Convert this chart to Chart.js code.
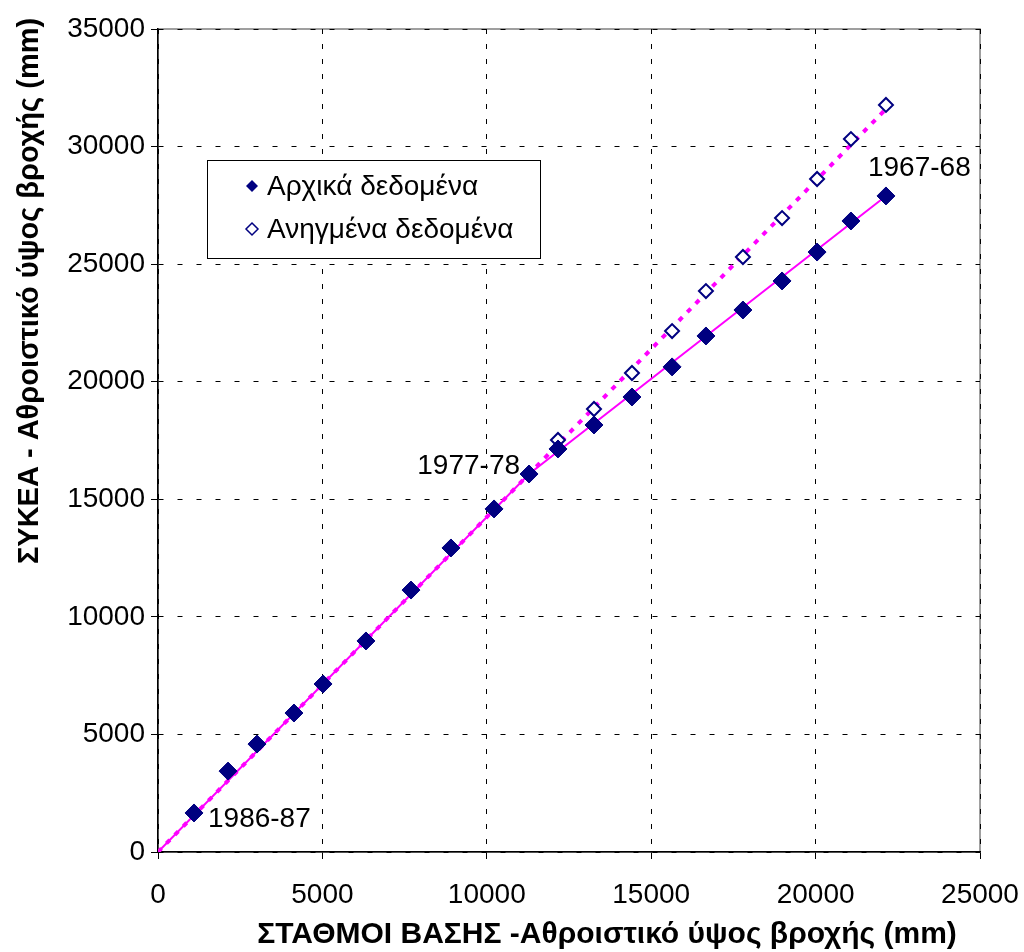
<!DOCTYPE html>
<html>
<head>
<meta charset="utf-8">
<script src="https://cdn.jsdelivr.net/npm/chart.js@4"></script>
<style>
  html, body { margin: 0; padding: 0; background: #fff; }
  #wrap { width: 1024px; height: 952px; }
</style>
</head>
<body>
<div id="wrap"><canvas id="massChart" width="1024" height="952"></canvas></div>
<script>
// Cumulative rainfall, base stations (x) vs SYKEA (y), mm
const baseCum = [1095, 2130, 3010, 4135, 5020, 6325, 7695, 8910, 10220, 11285,
                 12165, 13260, 14415, 15635, 16665, 17790, 18980, 20045, 21075, 22140];
const origCum = [1660, 3440, 4590, 5910, 7145, 8975, 11140, 12930, 14590, 16075,
                 17140, 18160, 19350, 20630, 21945, 23050, 24285, 25515, 26835, 27900];
const adjCum  = [1660, 3440, 4590, 5910, 7145, 8975, 11140, 12930, 14590, 16075,
                 17520, 18840, 20370, 22155, 23855, 25305, 26960, 28620, 30320, 31770];

// fitted straight lines (break at 1977-78)
const origFitX = [0, 11285, 22140];
const origFitY = [0, 16075, 27900];
const adjFitX  = [0, 11285, 22140];
const adjFitY  = [0, 16075, 31600];

const xTicks = [0, 5000, 10000, 15000, 20000, 25000];
const yTicks = [0, 5000, 10000, 15000, 20000, 25000, 30000, 35000];

const yearLabels = [
  {text: '1986-87', idx: 0,  dx: 14,  dy: 6,   align: 'left'},
  {text: '1977-78', idx: 9,  dx: -9,  dy: -8,  align: 'right'},
  {text: '1967-68', idx: 19, dx: -18, dy: -28, align: 'left'}
];

const legendItems = ['Αρχικά δεδομένα', 'Ανηγμένα δεδομένα'];
const xTitle = 'ΣΤΑΘΜΟΙ ΒΑΣΗΣ -Αθροιστικό ύψος βροχής (mm)';
const yTitle = 'ΣΥΚΕΑ - Αθροιστικό ύψος βροχής (mm)';

const toXY = (xs, ys) => xs.map((x, i) => ({x: x, y: ys[i]}));

const FONT = '"Liberation Sans", Arial, sans-serif';
const NAVY = '#000080';
const MAGENTA = '#ff00ff';

const overlay = {
  id: 'overlay',
  beforeDraw(chart) {
    // gray plot frame under the dashed grid
    const {ctx, chartArea: a} = chart;
    ctx.save();
    ctx.strokeStyle = '#808080';
    ctx.lineWidth = 1.5;
    ctx.strokeRect(a.left, a.top, a.right - a.left, a.bottom - a.top);
    ctx.restore();
  },
  afterDatasetsDraw(chart) {
    const {ctx, chartArea, scales} = chart;
    ctx.save();
    // year labels
    ctx.font = '28px ' + FONT;
    ctx.fillStyle = '#000';
    ctx.textBaseline = 'middle';
    yearLabels.forEach(l => {
      const px = scales.x.getPixelForValue(baseCum[l.idx]);
      const py = scales.y.getPixelForValue(origCum[l.idx]);
      ctx.textAlign = l.align;
      ctx.fillText(l.text, px + l.dx, py + l.dy);
    });
    // legend box
    const bx = chartArea.left + 49, by = chartArea.top + 131, bw = 333, bh = 98;
    ctx.fillStyle = '#fff';
    ctx.fillRect(bx, by, bw, bh);
    ctx.strokeStyle = '#000';
    ctx.lineWidth = 1;
    ctx.strokeRect(bx + 0.5, by + 0.5, bw, bh);
    ctx.font = '28px ' + FONT;
    ctx.textAlign = 'left';
    legendItems.forEach((t, i) => {
      const cy = by + 26 + i * 43;
      const mx = bx + 45;
      ctx.beginPath();
      ctx.moveTo(mx, cy - 6); ctx.lineTo(mx + 6, cy); ctx.lineTo(mx, cy + 6); ctx.lineTo(mx - 6, cy);
      ctx.closePath();
      if (i === 0) {
        ctx.fillStyle = NAVY; ctx.fill();
      } else {
        ctx.fillStyle = '#fff'; ctx.fill();
        ctx.strokeStyle = NAVY; ctx.lineWidth = 1.5; ctx.stroke();
      }
      ctx.fillStyle = '#000';
      ctx.fillText(t, bx + 60, cy + 1);
    });
    // axis titles
    ctx.font = 'bold 30px ' + FONT;
    ctx.textAlign = 'center';
    ctx.fillText(xTitle, 607, 935);
    ctx.font = 'bold 29px ' + FONT;
    ctx.translate(30, 291);
    ctx.rotate(-Math.PI / 2);
    ctx.fillText(yTitle, 0, 0);
    ctx.restore();
  }
};

const ctx = document.getElementById('massChart').getContext('2d');

const chart = new Chart(ctx, {
  type: 'scatter',
  data: {
    datasets: [
      {
        label: 'Αρχικά δεδομένα',
        data: toXY(baseCum, origCum),
        pointStyle: 'rectRot',
        pointRadius: 9,
        backgroundColor: NAVY,
        borderColor: NAVY,
        borderWidth: 1,
        showLine: false
      },
      {
        label: 'Ανηγμένα δεδομένα',
        data: toXY(baseCum, adjCum),
        pointStyle: 'rectRot',
        pointRadius: 7,
        backgroundColor: '#fff',
        borderColor: NAVY,
        borderWidth: 2,
        showLine: false
      },
      {
        label: 'fit orig',
        data: toXY(origFitX, origFitY),
        showLine: true,
        borderColor: MAGENTA,
        borderWidth: 2,
        pointRadius: 0
      },
      {
        label: 'fit adj',
        data: toXY(adjFitX, adjFitY),
        showLine: true,
        borderColor: MAGENTA,
        borderWidth: 4,
        borderDash: [5, 7],
        pointRadius: 0
      }
    ]
  },
  options: {
    responsive: false,
    animation: false,
    layout: { padding: { top: 29, right: 44, left: 0, bottom: 0 } },
    plugins: {
      legend: { display: false },
      tooltip: { enabled: false }
    },
    scales: {
      x: {
        type: 'linear',
        min: 0,
        max: 25000,
        afterBuildTicks: s => { s.ticks = xTicks.map(v => ({value: v})); },
        afterFit: s => { s.height = 100; s.paddingLeft = 0; s.paddingRight = 0; },
        ticks: {
          font: { family: FONT, size: 28 },
          color: '#000',
          padding: 19,
          maxRotation: 0,
          callback: v => String(v)
        },
        grid: {
          color: '#000',
          lineWidth: 1,
          tickLength: 7,
          tickColor: '#000',
          tickBorderDash: []
        },
        border: { display: true, color: '#000', width: 1.5, dash: [5, 10] }
      },
      y: {
        type: 'linear',
        min: 0,
        max: 35000,
        afterBuildTicks: s => { s.ticks = yTicks.map(v => ({value: v})); },
        afterFit: s => { s.width = 158; s.paddingTop = 0; s.paddingBottom = 0; },
        ticks: {
          font: { family: FONT, size: 28 },
          color: '#000',
          padding: 6,
          callback: v => String(v)
        },
        grid: {
          color: '#000',
          lineWidth: 1,
          tickLength: 7,
          tickColor: '#000',
          tickBorderDash: []
        },
        border: { display: true, color: '#000', width: 1.5, dash: [5, 14] }
      }
    }
  },
  plugins: [overlay]
});
</script>
</body>
</html>
